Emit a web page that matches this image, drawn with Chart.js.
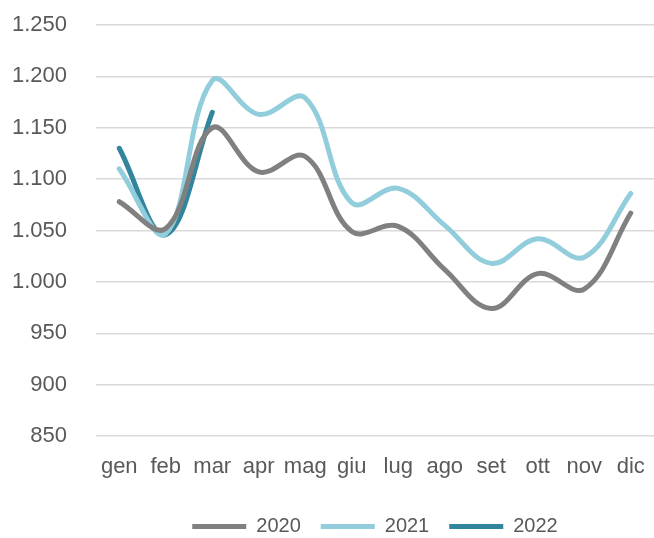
<!DOCTYPE html>
<html>
<head>
<meta charset="utf-8">
<script src="https://cdn.jsdelivr.net/npm/chart.js@4/dist/chart.umd.min.js"></script>
<style>
  html, body { margin: 0; padding: 0; background: #ffffff; }
  #wrap { width: 654px; height: 538px; position: relative; }
</style>
</head>
<body>
<div id="wrap"><canvas id="c"></canvas></div>
<script>
const months = ['gen','feb','mar','apr','mag','giu','lug','ago','set','ott','nov','dic'];
const series2020 = [1078, 1052, 1150, 1107, 1122, 1049, 1054, 1012, 974, 1008, 993, 1067];
const series2021 = [1110, 1047, 1196, 1163, 1179, 1077, 1091, 1055, 1018, 1042, 1024, 1086];
const series2022 = [1130, 1046, 1165];
const seriesNames = ['2020', '2021', '2022'];
const seriesColors = ['#808080', '#92CDDC', '#31859C'];

function fmt(v) {
  return String(v).replace(/\B(?=(\d{3})+(?!\d))/g, '.');
}

const FONT = 'Liberation Sans, Arial, sans-serif';
const allSeries = [series2020, series2021, series2022];
const datasets = allSeries.map((d, i) => ({
  label: seriesNames[i],
  data: d,
  borderColor: seriesColors[i],
  backgroundColor: seriesColors[i],
  borderWidth: 5,
  pointRadius: 0,
  pointHoverRadius: 0,
  tension: 0.38,
  borderCapStyle: 'round',
  borderJoinStyle: 'round',
  fill: false,
  pointStyle: 'line'
}));

const chart = new Chart(document.getElementById('c'), {
  type: 'line',
  data: { labels: months, datasets: datasets },
  options: {
    responsive: true,
    maintainAspectRatio: false,
    animation: false,
    layout: { padding: { left: 0, right: 0, top: 25, bottom: -8.5 } },
    plugins: {
      tooltip: { enabled: false },
      legend: {
        position: 'bottom',
        fullSize: false,
        labels: {
          usePointStyle: true,
          pointStyleWidth: 54,
          boxHeight: 5,
          padding: 20,
          color: '#595959',
          font: { family: FONT, size: 20 }
        }
      }
    },
    scales: {
      x: {
        offset: true,
        afterFit: (s) => { s.height = 60.5; },
        grid: { display: false, drawTicks: true, tickLength: 18 },
        border: { display: false },
        ticks: {
          color: '#595959',
          padding: 0,
          maxRotation: 0,
          autoSkip: false,
          font: { family: FONT, size: 22 }
        }
      },
      y: {
        min: 850,
        max: 1250,
        afterFit: (s) => { s.width = 96; },
        grid: { color: '#d9d9d9', lineWidth: 1.5, drawTicks: true, tickLength: 29, tickColor: 'rgba(0,0,0,0)' },
        border: { display: false },
        ticks: {
          stepSize: 50,
          padding: 0,
          color: '#595959',
          font: { family: FONT, size: 22 },
          callback: (v) => fmt(v)
        }
      }
    }
  }
});
</script>
</body>
</html>
